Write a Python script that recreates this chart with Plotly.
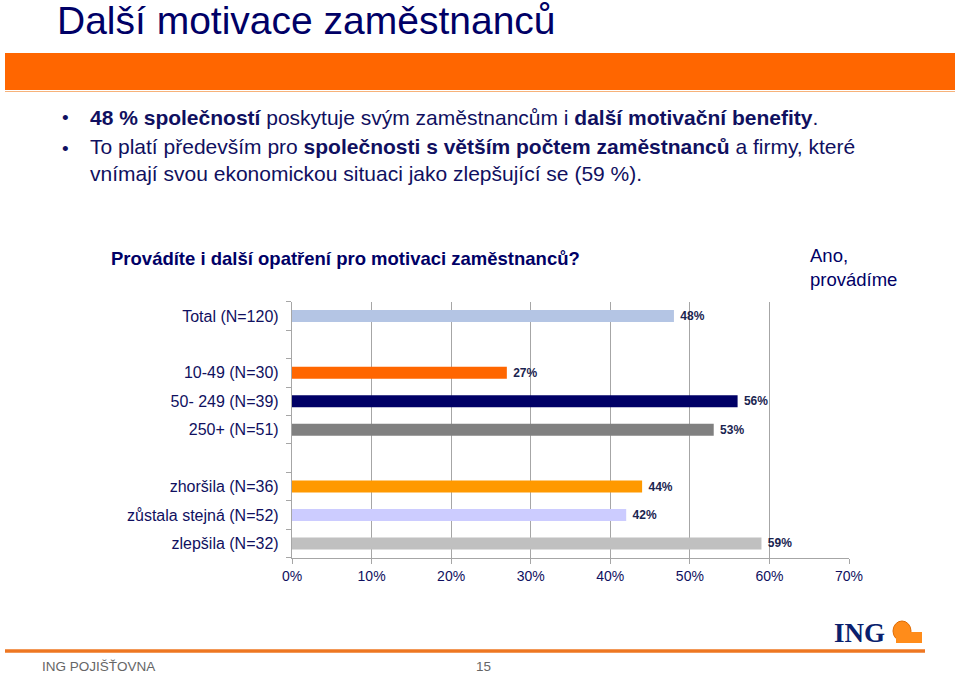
import plotly.graph_objects as go

# ---- data ----
categories = ["Total (N=120)", "", "10-49 (N=30)", "50- 249 (N=39)", "250+ (N=51)", "",
              "zhoršila (N=36)", "zůstala stejná (N=52)", "zlepšila (N=32)"]
values = [48, None, 27, 56, 53, None, 44, 42, 59]
bar_colors = ["#b4c5e4", "#ffffff", "#ff6600", "#000066", "#808080", "#ffffff",
              "#ff9900", "#ccccff", "#c0c0c0"]
x_ticks = [0, 10, 20, 30, 40, 50, 60, 70]
x_tick_labels = [f"{v}%" for v in x_ticks]

W, H = 960, 676
FONT = "Arial, Liberation Sans, sans-serif"
NAVY = "#101060"

def px_x(p):
    return p / W

def px_y(p):
    return 1 - p / H

pos = list(range(len(categories)))
xs = [v for v in values if v is not None]
ys = [p for p, v in zip(pos, values) if v is not None]
cs = [c for c, v in zip(bar_colors, values) if v is not None]

fig = go.Figure()
fig.add_trace(go.Bar(
    x=xs, y=ys, orientation="h", width=0.42,
    marker=dict(color=cs, line=dict(width=0)),
    text=[f"<b> {v}%</b>" for v in xs], textposition="outside",
    constraintext="none",
    textfont=dict(family=FONT, size=12, color="#1a2450"),
    cliponaxis=False, hoverinfo="skip",
))

fig.update_layout(
    width=W, height=H,
    margin=dict(l=0, r=0, t=0, b=0),
    paper_bgcolor="white", plot_bgcolor="white",
    showlegend=False,
    font=dict(family=FONT, color=NAVY),
    xaxis=dict(
        domain=[px_x(292), px_x(849)], range=[0, 70],
        tickvals=x_ticks, ticktext=x_tick_labels,
        showgrid=True, gridcolor="#a6a6a6", gridwidth=1.3,
        showline=True, linecolor="#a6a6a6", linewidth=1.3,
        ticks="outside", ticklen=5, tickcolor="#a6a6a6", tickwidth=1.3,
        tickfont=dict(family=FONT, size=14, color=NAVY),
        automargin=False, zeroline=False, fixedrange=True,
    ),
    yaxis=dict(
        domain=[px_y(557.7), px_y(301.7)], range=[8.5, -0.5],
        tickvals=pos, ticktext=categories,
        showgrid=False, zeroline=False,
        showline=True, linecolor="#a6a6a6", linewidth=1.3,
        ticks="", ticklabelstandoff=9,
        minor=dict(tick0=-0.5, dtick=1, ticks="outside", ticklen=5,
                   tickcolor="#a6a6a6", tickwidth=1.3, showgrid=False),
        tickfont=dict(family=FONT, size=16, color=NAVY),
        automargin=False, fixedrange=True,
    ),
)

shapes = [
    # orange header band
    dict(type="rect", xref="paper", yref="paper", x0=px_x(5), x1=px_x(955),
         y0=px_y(90), y1=px_y(53), fillcolor="#ff6600", line=dict(width=0), layer="below"),
    dict(type="line", xref="paper", yref="paper", x0=px_x(5), x1=px_x(955),
         y0=px_y(91.5), y1=px_y(91.5), line=dict(color="#f7b27a", width=1)),
    # footer orange line
    dict(type="line", xref="paper", yref="paper", x0=px_x(5), x1=px_x(925),
         y0=px_y(651), y1=px_y(651), line=dict(color="#ee7722", width=3.5)),
    # lion mark (simplified)
    dict(type="circle", xref="paper", yref="paper", x0=px_x(893), x1=px_x(911),
         y0=px_y(641), y1=px_y(621), fillcolor="#ff8c1a", line=dict(color="#e06a00", width=1)),
    dict(type="rect", xref="paper", yref="paper", x0=px_x(896), x1=px_x(922),
         y0=px_y(643), y1=px_y(632), fillcolor="#ff8c1a", line=dict(width=0)),
]
fig.update_layout(shapes=shapes)

ann = []
def text(x, y, s, size, color=NAVY, xanchor="left", yanchor="middle", family=FONT, align="left"):
    ann.append(dict(xref="paper", yref="paper", x=px_x(x), y=px_y(y), text=s,
                    showarrow=False, xanchor=xanchor, yanchor=yanchor, align=align,
                    font=dict(family=family, size=size, color=color)))

text(55, 21, "Další motivace zaměstnanců", 39, color="#000066")
text(60, 117, "•", 19)
text(88, 117, "<b>48 % společností</b> poskytuje svým zaměstnancům i <b>další motivační benefity</b>.", 21)
text(60, 149, "•", 19)
text(88, 160, "To platí především pro <b>společnosti s větším počtem zaměstnanců</b> a firmy, které<br>vnímají svou ekonomickou situaci jako zlepšující se (59 %).", 21)
text(109, 258, "<b>Provádíte i další opatření pro motivaci zaměstnanců?</b>", 18.5, color="#000066")
text(808, 267, "Ano,<br>provádíme", 18.5, color="#000066")
text(40, 666, "ING POJIŠŤOVNA", 13.5, color="#666666")
text(474, 666, "15", 13.5, color="#666666")
text(832, 633, "<b>ING</b>", 27, color="#0a1f6e", family="Liberation Serif, Times New Roman, serif")

fig.update_layout(annotations=ann)

fig.write_html("out.html", config={"displayModeBar": False},
               post_script="document.body.style.margin='0';document.body.style.overflow='hidden';")
